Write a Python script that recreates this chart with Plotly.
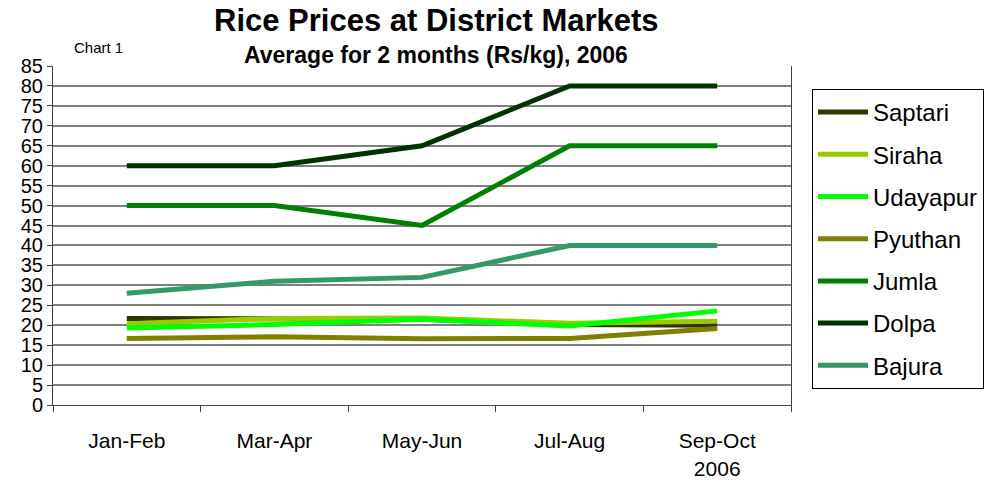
import plotly.graph_objects as go

categories = ["Jan-Feb", "Mar-Apr", "May-Jun", "Jul-Aug", "Sep-Oct<br>2006"]

saptari = [21.7, 21.5, 21.5, 20.2, 20.0]
siraha = [20.4, 21.7, 21.8, 20.5, 21.0]
udayapur = [19.3, 20.2, 21.5, 19.8, 23.6]
pyuthan = [16.7, 17.1, 16.6, 16.7, 19.2]
jumla = [50, 50, 45, 65, 65]
dolpa = [60, 60, 65, 80, 80]
bajura = [28, 31, 32, 40, 40]

series_names = ["Saptari", "Siraha", "Udayapur", "Pyuthan", "Jumla", "Dolpa", "Bajura"]
series_values = [saptari, siraha, udayapur, pyuthan, jumla, dolpa, bajura]
series_colors = ["#333300", "#99CC00", "#00FF00", "#808000", "#008000", "#003300", "#339966"]

fig = go.Figure()
for name, vals, col in zip(series_names, series_values, series_colors):
    fig.add_trace(go.Scatter(
        x=categories, y=vals, name=name, mode="lines",
        line=dict(color=col, width=5), legendgroup=name,
    ))

font_family = "Liberation Sans, Arial, sans-serif"

fig.update_layout(
    template="none",
    width=1002, height=488,
    margin=dict(l=53, r=211, t=66, b=83, autoexpand=False),
    paper_bgcolor="white", plot_bgcolor="white",
    font=dict(family=font_family, color="black"),
    showlegend=True,
    legend=dict(
        x=(812 - 53) / 738, y=(405 - 89) / 339, xanchor="left", yanchor="top",
        bordercolor="black", borderwidth=1, bgcolor="white",
        font=dict(size=24, family=font_family, color="black"),
        tracegroupgap=8, itemwidth=50,
    ),
    xaxis=dict(
        type="category", showgrid=False, showline=True, linecolor="#404040", linewidth=1,
        ticks="outside", tickson="boundaries", ticklen=6, tickcolor="#404040",
        tickfont=dict(size=21), ticklabelstandoff=17, range=[-0.5, 4.5], automargin=False,
    ),
    yaxis=dict(
        range=[0, 85], dtick=5, showgrid=True, gridcolor="#808080", gridwidth=1.5,
        showline=True, linecolor="#404040", linewidth=1, mirror=True,
        ticks="outside", ticklen=5, tickcolor="#404040",
        tickfont=dict(size=20), zeroline=False, automargin=False,
    ),
    annotations=[
        dict(text="<b>Rice Prices at District Markets</b>", xref="paper", yref="paper",
             x=(436 - 53) / 738, y=(405 - 20) / 339, xanchor="center", yanchor="middle",
             showarrow=False, font=dict(size=31, family=font_family)),
        dict(text="<b>Average for 2 months (Rs/kg), 2006</b>", xref="paper", yref="paper",
             x=(436 - 53) / 738, y=(405 - 55) / 339, xanchor="center", yanchor="middle",
             showarrow=False, font=dict(size=23, family=font_family)),
        dict(text="Chart 1", xref="paper", yref="paper",
             x=(72 - 53) / 738, y=(405 - 48) / 339, xanchor="left", yanchor="middle",
             showarrow=False, font=dict(size=15, family=font_family)),
    ],
)

fig.write_html(
    "out.html",
    config={"displayModeBar": False},
    post_script="document.body.style.margin='0';document.body.style.padding='0';",
)
